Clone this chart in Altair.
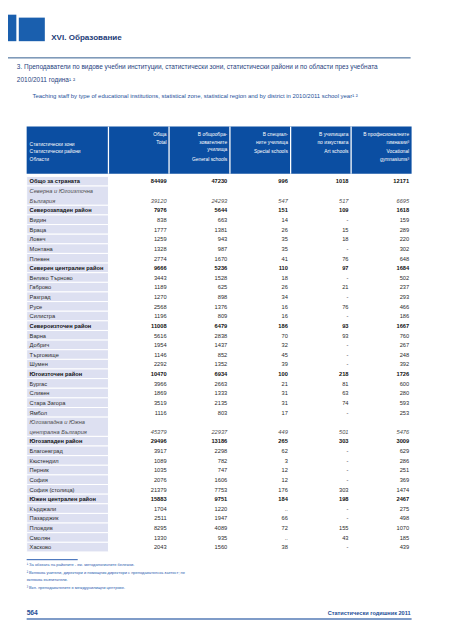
import altair as alt
import pandas as pd

# ---------------- data ----------------
regions = [
    "Общо за страната", "Северна и Югоизточна\nБългария", "Северозападен район",
    "Видин", "Враца", "Ловеч", "Монтана", "Плевен",
    "Северен централен район", "Велико Търново", "Габрово", "Разград", "Русе", "Силистра",
    "Североизточен район", "Варна", "Добрич", "Търговище", "Шумен",
    "Югоизточен район", "Бургас", "Сливен", "Стара Загора", "Ямбол",
    "Югозападна и Южна\nцентрална България", "Югозападен район",
    "Благоевград", "Кюстендил", "Перник", "София", "София (столица)",
    "Южен централен район", "Кърджали", "Пазарджик", "Пловдив", "Смолян", "Хасково",
]
styles = [
    "bold", "italic", "bold",
    "normal", "normal", "normal", "normal", "normal",
    "bold", "normal", "normal", "normal", "normal", "normal",
    "bold", "normal", "normal", "normal", "normal",
    "bold", "normal", "normal", "normal", "normal",
    "italic", "bold",
    "normal", "normal", "normal", "normal", "normal",
    "bold", "normal", "normal", "normal", "normal", "normal",
]
total = ["84499", "39120", "7976", "838", "1777", "1259", "1328", "2774",
         "9666", "3443", "1189", "1270", "2568", "1196",
         "11008", "5616", "1954", "1146", "2292",
         "10470", "3966", "1869", "3519", "1116",
         "45379", "29496", "3917", "1089", "1035", "2076", "21379",
         "15883", "1704", "2511", "8295", "1330", "2043"]
general = ["47230", "24293", "5644", "663", "1381", "943", "987", "1670",
           "5236", "1528", "625", "898", "1376", "809",
           "6479", "2838", "1437", "852", "1352",
           "6934", "2663", "1333", "2135", "803",
           "22937", "13186", "2298", "782", "747", "1606", "7753",
           "9751", "1220", "1947", "4089", "935", "1560"]
special = ["996", "547", "151", "14", "26", "35", "35", "41",
           "110", "18", "26", "34", "16", "16",
           "186", "70", "32", "45", "39",
           "100", "21", "31", "31", "17",
           "449", "265", "62", "3", "12", "12", "176",
           "184", "..", "66", "72", "..", "38"]
art = ["1018", "517", "109", "-", "15", "18", "-", "76",
       "97", "-", "21", "-", "76", "-",
       "93", "93", "-", "-", "-",
       "218", "81", "63", "74", "-",
       "501", "303", "-", "-", "-", "-", "303",
       "198", "-", "-", "155", "43", "-"]
vocational = ["12171", "6695", "1618", "159", "289", "220", "302", "648",
              "1684", "502", "237", "293", "466", "186",
              "1667", "760", "267", "248", "392",
              "1726", "600", "280", "593", "253",
              "5476", "3009", "629", "286", "251", "369", "1474",
              "2467", "275", "498", "1070", "185", "439"]

stub_header = ["Статистически зони", "Статистически райони", "Области"]
col_headers = [
    ["Обща", "Total"],
    ["В общообра-", "зователните", "училища", "General  schools"],
    ["В специал-", "ните училища", "Special schools"],
    ["В училищата", "по изкуствата", "Art schools"],
    ["В професионалните", "гимназии³", "Vocational", "gymnasiums³"],
]
section = "XVI. Образование"
title_bg = ["3. Преподаватели по видове учебни институции, статистически зони, статистически райони и по области през учебната",
            "2010/2011 година¹ ²"]
title_en = "Teaching staff by type of educational institutions, statistical zone, statistical region and by district in 2010/2011 school year¹ ²"
footnotes = ["¹ За обхвата на районите - вж. методологичните бележки.",
             "² Включва учители, директори и помощник-директори с преподавателска заетост; не",
             "включва възпитатели.",
             "³ Вкл. преподавателите в междуучилищни центрове."]
page_no = "564"
book = "Статистически годишник 2011"

# ---------------- layout ----------------
FONT = "Liberation Sans, Arial, sans-serif"
W, H = 444, 632
BLUE = "#0b4ea2"
DARK = "#1d3c78"
STUB_BG = "#dde0f1"


def sx():
    return alt.Scale(domain=[8, 452], range=[0, W], nice=False, zero=False)


def sy():
    return alt.Scale(domain=[8, 640], range=[0, H], nice=False, zero=False)


N_LINES = sum(len(r.split("\n")) for r in regions)


def rowy():
    return alt.Scale(domain=[0, N_LINES - 1], range=[178.6 - 8, 551.2 - 8], nice=False, zero=False)


def colx():
    return alt.Scale(domain=[1, 5], range=[169.5 - 8, 416.5 - 8], nice=False, zero=False)


# build table frames
stub_rows, cell_rows, val_rows = [], [], []
line = 0
cols = [total, general, special, art, vocational]
for i, name in enumerate(regions):
    parts = name.split("\n")
    start, end = line, line + len(parts) - 1
    for k, p in enumerate(parts):
        stub_rows.append({"line": start + k, "text": p, "style": styles[i]})
    cell_rows.append({"a": start - 0.5, "b": end + 0.5})
    for c, arr in enumerate(cols):
        val_rows.append({"line": end, "col": c + 1, "text": arr[i], "style": styles[i]})
    line = end + 1
stub_df = pd.DataFrame(stub_rows)
cell_df = pd.DataFrame(cell_rows)
val_df = pd.DataFrame(val_rows)

layers = []

# logo blocks
logo = pd.DataFrame({"x": [0, 19], "x2": [16.5, 45.5], "y": [9, 12], "y2": [36, 36]})
layers.append(alt.Chart(logo).mark_rect(color="#1a5fae").encode(
    x=alt.X("x:Q", scale=sx(), axis=None), x2="x2", y=alt.Y("y:Q", scale=sy(), axis=None), y2="y2"))

# section title
layers.append(alt.Chart(pd.DataFrame({"t": [section], "x": [52], "y": [33]})).mark_text(
    font=FONT, fontSize=8.2, fontWeight="bold", color=DARK, align="left", baseline="middle").encode(
    x=alt.X("x:Q", scale=sx(), axis=None), y=alt.Y("y:Q", scale=sy(), axis=None), text="t"))

# rules
rules = pd.DataFrame({"x": [0, 27], "x2": [418, 79], "y": [53, 564], "c": ["a", "b"]})
layers.append(alt.Chart(rules).mark_rule(strokeWidth=1).encode(
    x=alt.X("x:Q", scale=sx(), axis=None), x2="x2", y=alt.Y("y:Q", scale=sy(), axis=None),
    color=alt.Color("c:N", scale=alt.Scale(domain=["a", "b"], range=["#2f5a8e", "#2a5db0"]), legend=None)))
foot_rule = pd.DataFrame({"x": [27], "x2": [419], "y": [624.5]})
layers.append(alt.Chart(foot_rule).mark_rule(strokeWidth=2, color="#7f9cc8").encode(
    x=alt.X("x:Q", scale=sx(), axis=None), x2="x2", y=alt.Y("y:Q", scale=sy(), axis=None)))

# table title
tt = pd.DataFrame({"t": title_bg, "x": [17, 17], "y": [62.5, 76]})
layers.append(alt.Chart(tt).mark_text(font=FONT, fontSize=6.6, color="#1f3f80", align="left",
                                      baseline="middle").encode(
    x=alt.X("x:Q", scale=sx(), axis=None), y=alt.Y("y:Q", scale=sy(), axis=None), text="t"))
te = pd.DataFrame({"t": [title_en], "x": [33], "y": [92]})
layers.append(alt.Chart(te).mark_text(font=FONT, fontSize=6.05, color="#24509a", align="left",
                                      baseline="middle").encode(
    x=alt.X("x:Q", scale=sx(), axis=None), y=alt.Y("y:Q", scale=sy(), axis=None), text="t"))

# header box
hb = pd.DataFrame({"x": [27], "x2": [419], "y": [123], "y2": [171]})
layers.append(alt.Chart(hb).mark_rect(color=BLUE).encode(
    x=alt.X("x:Q", scale=sx(), axis=None), x2="x2", y=alt.Y("y:Q", scale=sy(), axis=None), y2="y2"))
seps = pd.DataFrame({"x": [110.3, 172, 234, 295.8, 357.4], "y": [123] * 5, "y2": [171] * 5})
layers.append(alt.Chart(seps).mark_rule(color="white", strokeWidth=1.3).encode(
    x=alt.X("x:Q", scale=sx(), axis=None), y=alt.Y("y:Q", scale=sy(), axis=None), y2="y2"))

# header texts
sh = pd.DataFrame({"t": stub_header, "x": [30] * 3, "y": [140.5, 148.3, 156]})
layers.append(alt.Chart(sh).mark_text(font=FONT, fontSize=5, color="white", align="left",
                                      baseline="middle").encode(
    x=alt.X("x:Q", scale=sx(), axis=None), y=alt.Y("y:Q", scale=sy(), axis=None), text="t"))
hy = {0: [131, 138.5], 1: [131, 138.5, 146, 155.5], 2: [131, 138.5, 148.3], 3: [131, 138.5, 148.3],
      4: [131, 138.5, 148.3, 156]}
hrows = []
for c, lines in enumerate(col_headers):
    for k, t in enumerate(lines):
        hrows.append({"col": c + 1, "t": t, "y": hy[c][k]})
layers.append(alt.Chart(pd.DataFrame(hrows)).mark_text(font=FONT, fontSize=5, color="white", align="right",
                                                       baseline="middle").encode(
    x=alt.X("col:Q", scale=colx(), axis=None), y=alt.Y("y:Q", scale=sy(), axis=None), text="t"))

# stub background cells
layers.append(alt.Chart(cell_df).mark_rect(fill=STUB_BG, stroke="white", strokeWidth=1).encode(
    x=alt.value(27 - 8), x2=alt.value(110.3 - 8),
    y=alt.Y("a:Q", scale=rowy(), axis=None), y2="b"))

# stub texts and values, by style
style_opts = {
    "normal": dict(fontWeight="normal", fontStyle="normal", color="#2b2b2b"),
    "bold": dict(fontWeight="bold", fontStyle="normal", color="#111111"),
    "italic": dict(fontWeight="normal", fontStyle="italic", color="#4d4d4d"),
}
for st, opts in style_opts.items():
    layers.append(alt.Chart(stub_df[stub_df["style"] == st]).mark_text(
        font=FONT, fontSize=5.8, align="left", baseline="middle", dy=0.3, **opts).encode(
        x=alt.value(30 - 8), y=alt.Y("line:Q", scale=rowy(), axis=None), text="text"))
    layers.append(alt.Chart(val_df[val_df["style"] == st]).mark_text(
        font=FONT, fontSize=5.8, align="right", baseline="middle", dy=0.3, **opts).encode(
        x=alt.X("col:Q", scale=colx(), axis=None), y=alt.Y("line:Q", scale=rowy(), axis=None), text="text"))

# footnotes
fn = pd.DataFrame({"t": footnotes, "x": [27] * 4, "y": [569.5, 577.5, 585, 593]})
layers.append(alt.Chart(fn).mark_text(font=FONT, fontSize=4.1, color="#2a5db0", align="left",
                                      baseline="middle").encode(
    x=alt.X("x:Q", scale=sx(), axis=None), y=alt.Y("y:Q", scale=sy(), axis=None), text="t"))

# footer
ft = pd.DataFrame({"t": [page_no], "x": [27], "y": [618]})
layers.append(alt.Chart(ft).mark_text(font=FONT, fontSize=6.8, fontWeight="bold", color="#1d4e96",
                                      align="left", baseline="middle").encode(
    x=alt.X("x:Q", scale=sx(), axis=None), y=alt.Y("y:Q", scale=sy(), axis=None), text="t"))
fb = pd.DataFrame({"t": [book], "x": [418], "y": [618]})
layers.append(alt.Chart(fb).mark_text(font=FONT, fontSize=5.7, fontWeight="bold", color="#1d4e96",
                                      align="right", baseline="middle").encode(
    x=alt.X("x:Q", scale=sx(), axis=None), y=alt.Y("y:Q", scale=sy(), axis=None), text="t"))

chart = alt.layer(*layers).resolve_scale(x="independent", y="independent", color="independent").properties(
    width=W, height=H, padding=0, autosize=alt.AutoSizeParams(type="none"), background="white"
).configure_view(stroke=None)

chart.save("out.html", embed_options={"renderer": "svg", "actions": False})
